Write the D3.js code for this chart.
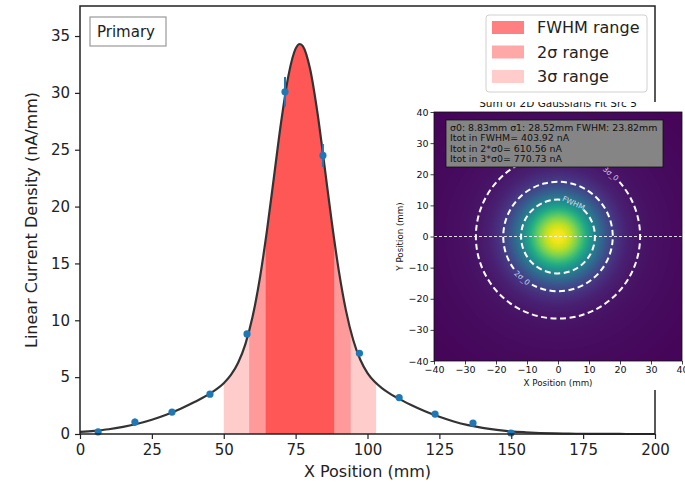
<!DOCTYPE html>
<html>
<head>
<meta charset="utf-8">
<script src="https://cdn.jsdelivr.net/npm/d3@7"></script>
<style>
  body { margin: 0; background: #fff; }
  svg { display: block; }
  text { font-family: "DejaVu Sans", sans-serif; }
</style>
</head>
<body>
<svg id="chart" width="685" height="484"></svg>
<script>
// ---- measured linear current density samples (mm, nA/mm) ----
const pointX   = [6.3, 19.1, 32.0, 45.2, 58.1, 71.3, 84.5, 97.2, 111.0, 123.5, 136.7, 149.9];
const pointY   = [0.18, 1.05, 1.93, 3.5, 8.8, 30.1, 24.5, 7.1, 3.2, 1.75, 0.96, 0.09];
const pointErr = [0.15, 0.3, 0.15, 0.2, 0.2, 1.3, 1.0, 0.2, 0.25, 0.15, 0.2, 0.1];

// ---- fitted profile ----
const fitX = [0, 5, 10, 15, 20, 25, 30, 35, 40, 42.5, 45, 47.5, 50, 52.5, 55, 57.5, 60, 62.5, 65, 67.5,
              70, 72.5, 75, 76.5, 77.5, 80, 82.5, 85, 87.5, 90, 92.5, 95, 97.5, 100, 102.5, 105, 107.5,
              110, 112.5, 115, 120, 125, 130, 135, 140, 145, 150, 155, 160, 165, 170, 175, 180, 185,
              190, 195, 200];
const fitY = [0.18, 0.28, 0.42, 0.63, 0.90, 1.25, 1.69, 2.22, 2.83, 3.16, 3.53, 3.94, 4.47, 5.19, 6.26,
              7.88, 10.28, 13.61, 17.84, 22.68, 27.51, 31.52, 33.89, 34.30, 34.12, 32.14, 28.41, 23.67,
              18.78, 14.39, 10.87, 8.29, 6.53, 5.36, 4.59, 4.04, 3.60, 3.23, 2.89, 2.57, 2.00, 1.51,
              1.10, 0.78, 0.54, 0.36, 0.23, 0.15, 0.09, 0.05, 0.03, 0.02, 0.01, 0.004, 0.002, 0.001, 0.0005];

// ---- shaded ranges (drawn widest first) ----
const bandNames  = ["3σ range", "2σ range", "FWHM range"];
const bandLo     = [50.01, 58.84, 64.59];
const bandHi     = [102.99, 94.16, 88.41];
const bandFill   = ["#ffcccc", "#ff9a9a", "#ff5656"];
const legendNames = ["FWHM range", "2σ range", "3σ range"];
const legendFill  = ["#ff8080", "#ffa8a8", "#ffcccc"];

const xTicks = [0, 25, 50, 75, 100, 125, 150, 175, 200];
const yTicks = [0, 5, 10, 15, 20, 25, 30, 35];

// ---- 2D fit panel ----
const insetTitle = "Sum of 2D Gaussians Fit Src 5";
const statLines = [
  "σ0: 8.83mm  σ1: 28.52mm FWHM: 23.82mm",
  "Itot in FWHM= 403.92 nA",
  "Itot in 2*σ0= 610.56 nA",
  "Itot in 3*σ0= 770.73 nA"
];
const contourNames  = ["FWHM", "2σ_0", "3σ_0"];
const contourRadii  = [11.91, 17.66, 26.49];
const contourLabelAngle = [65, -131, 50];   // degrees, counter-clockwise from +x
// radial intensity profile (normalised)
const profileR = [0, 2, 4, 6, 8, 10, 12, 14, 16, 18, 20, 22, 25, 30, 35, 40, 50, 57];
const profileV = [1, 0.976, 0.908, 0.806, 0.683, 0.554, 0.431, 0.325, 0.238, 0.171, 0.124, 0.091,
                  0.062, 0.041, 0.031, 0.025, 0.014, 0.009];
const insetTicks = [-40, -30, -20, -10, 0, 10, 20, 30, 40];

// =============== main panel ===============
const svg = d3.select("#chart");
const M = { left: 80, right: 655, top: 6, bottom: 434 };
const x = d3.scaleLinear().domain([0, 200]).range([M.left, M.right]);
const y = d3.scaleLinear().domain([0, 37.64]).range([M.bottom, M.top]);

const fit = fitX.map((v, i) => ({ x: v, y: fitY[i] }));
const area = d3.area().x(d => x(d.x)).y0(y(0)).y1(d => y(d.y)).curve(d3.curveMonotoneX);
const line = d3.line().x(d => x(d.x)).y(d => y(d.y)).curve(d3.curveMonotoneX);

const defs = svg.append("defs");
bandNames.forEach((name, i) => {
  defs.append("clipPath").attr("id", "band" + i)
    .append("rect")
    .attr("x", x(bandLo[i])).attr("width", x(bandHi[i]) - x(bandLo[i]))
    .attr("y", M.top).attr("height", M.bottom - M.top);
  svg.append("path").datum(fit)
    .attr("d", area)
    .attr("fill", bandFill[i])
    .attr("clip-path", `url(#band${i})`);
});

svg.append("path").datum(fit)
  .attr("d", line)
  .attr("fill", "none")
  .attr("stroke", "#333")
  .attr("stroke-width", 2.2);

// error bars and points
const pts = pointX.map((v, i) => ({ x: v, y: pointY[i], e: pointErr[i] }));
svg.append("g").selectAll("line").data(pts).join("line")
  .attr("x1", d => x(d.x)).attr("x2", d => x(d.x))
  .attr("y1", d => y(d.y - d.e)).attr("y2", d => y(d.y + d.e))
  .attr("stroke", "#1f77b4").attr("stroke-width", 2);
svg.append("g").selectAll("circle").data(pts).join("circle")
  .attr("cx", d => x(d.x)).attr("cy", d => y(d.y)).attr("r", 3.6)
  .attr("fill", "#1f77b4");

// axes
const xAxis = svg.append("g").attr("transform", `translate(0,${M.bottom})`)
  .call(d3.axisBottom(x).tickValues(xTicks).tickSize(5).tickPadding(5).tickFormat(d3.format("d")));
const yAxis = svg.append("g").attr("transform", `translate(${M.left},0)`)
  .call(d3.axisLeft(y).tickValues(yTicks).tickSize(5).tickPadding(5).tickFormat(d3.format("d")));
[xAxis, yAxis].forEach(g => {
  g.select(".domain").remove();
  g.selectAll(".tick line").attr("stroke", "#222").attr("stroke-width", 1.2);
  g.selectAll(".tick text").attr("fill", "#222").style("font-size", "15px")
    .style("font-family", "'DejaVu Sans', sans-serif");
});
// frame
svg.append("rect")
  .attr("x", M.left).attr("y", M.top)
  .attr("width", M.right - M.left).attr("height", M.bottom - M.top)
  .attr("fill", "none").attr("stroke", "#222").attr("stroke-width", 1.5);

svg.append("text").attr("x", (M.left + M.right) / 2).attr("y", 477)
  .attr("text-anchor", "middle").style("font-size", "16px").attr("fill", "#222")
  .text("X Position (mm)");
svg.append("text").attr("transform", `translate(31,${(M.top + M.bottom) / 2}) rotate(-90)`)
  .attr("text-anchor", "middle").attr("dy", "0.35em").style("font-size", "16px").attr("fill", "#222")
  .text("Linear Current Density (nA/mm)");

// "Primary" tag
svg.append("rect").attr("x", 90).attr("y", 17).attr("width", 76).attr("height", 29)
  .attr("fill", "#fff").attr("stroke", "#999").attr("stroke-width", 1.2);
svg.append("text").attr("x", 97).attr("y", 37).style("font-size", "15px").attr("fill", "#222")
  .text("Primary");

// legend
const leg = svg.append("g");
leg.append("rect").attr("x", 486).attr("y", 15).attr("width", 161).attr("height", 77)
  .attr("rx", 3).attr("fill", "#fff").attr("fill-opacity", 0.85)
  .attr("stroke", "#d0d0d0").attr("stroke-width", 1);
legendNames.forEach((name, i) => {
  const cy = 27.5 + i * 24.5;
  leg.append("rect").attr("x", 492).attr("y", cy - 6.5).attr("width", 32).attr("height", 13)
    .attr("fill", legendFill[i]);
  leg.append("text").attr("x", 537).attr("y", cy).attr("dy", "0.35em")
    .style("font-size", "16px").attr("fill", "#222").text(name);
});

// =============== 2D fit panel ===============
defs.append("clipPath").attr("id", "insetClip")
  .append("rect").attr("x", 393).attr("y", 102).attr("width", 292).attr("height", 288);
const inset = svg.append("g").attr("clip-path", "url(#insetClip)");
inset.append("rect").attr("x", 393).attr("y", 102).attr("width", 292).attr("height", 288).attr("fill", "#fff");

const ix = d3.scaleLinear().domain([-40, 40]).range([434, 682]);
const iy = d3.scaleLinear().domain([-40, 40]).range([361, 112]);

// heat map
const hmW = Math.round(ix(40) - ix(-40)), hmH = Math.round(iy(-40) - iy(40));
const cv = document.createElement("canvas");
cv.width = hmW; cv.height = hmH;
const ctx = cv.getContext("2d");
const img = ctx.createImageData(hmW, hmH);
const prof = d3.scaleLinear().domain(profileR).range(profileV).clamp(true);
const lut = d3.range(256).map(k => d3.rgb(d3.interpolateViridis(k / 255)));
for (let j = 0; j < hmH; j++) {
  const yy = iy.invert(iy(40) + j + 0.5);
  for (let i = 0; i < hmW; i++) {
    const xx = ix.invert(ix(-40) + i + 0.5);
    const c = lut[Math.round(prof(Math.hypot(xx, yy)) * 255)];
    const o = (j * hmW + i) * 4;
    img.data[o] = c.r; img.data[o + 1] = c.g; img.data[o + 2] = c.b; img.data[o + 3] = 255;
  }
}
ctx.putImageData(img, 0, 0);
inset.append("image").attr("href", cv.toDataURL())
  .attr("x", ix(-40)).attr("y", iy(40)).attr("width", hmW).attr("height", hmH)
  .attr("preserveAspectRatio", "none");

// centre line
inset.append("line").attr("x1", ix(-40)).attr("x2", 685).attr("y1", iy(0)).attr("y2", iy(0))
  .attr("stroke", "#fff").attr("stroke-opacity", 0.85).attr("stroke-width", 1)
  .attr("stroke-dasharray", "3,2");

// contour circles with label gaps
const cx0 = ix(0), cy0 = iy(0), pxPerMm = (ix(40) - ix(-40)) / 80;
contourRadii.forEach((r, i) => {
  const rp = r * pxPerMm;
  const th = contourLabelAngle[i] * Math.PI / 180;
  const gap = 12 / rp;
  const p = d3.path();
  const a0 = -th + gap, a1 = -th - gap + 2 * Math.PI;
  p.moveTo(cx0 + rp * Math.cos(a0), cy0 + rp * Math.sin(a0));
  p.arc(cx0, cy0, rp, a0, a1);
  inset.append("path").attr("d", p.toString()).attr("fill", "none")
    .attr("stroke", "#fff").attr("stroke-width", 2).attr("stroke-dasharray", "6,3.5");
  let rot = 90 - contourLabelAngle[i];
  if (rot > 90) rot -= 180;
  inset.append("text")
    .attr("transform", `translate(${cx0 + rp * Math.cos(th)},${cy0 - rp * Math.sin(th)}) rotate(${rot})`)
    .attr("text-anchor", "middle").attr("dy", "0.35em")
    .style("font-size", "7.5px").attr("fill", "#f0eaff").attr("fill-opacity", 0.85)
    .text(contourNames[i]);
});

// heat map frame and ticks
inset.append("rect").attr("x", ix(-40)).attr("y", iy(40)).attr("width", hmW).attr("height", hmH)
  .attr("fill", "none").attr("stroke", "#111").attr("stroke-width", 0.8);
const ixAxis = inset.append("g").attr("transform", `translate(0,${iy(-40)})`)
  .call(d3.axisBottom(ix).tickValues(insetTicks).tickSize(3.5).tickPadding(2).tickFormat(d3.format("d")));
const iyAxis = inset.append("g").attr("transform", `translate(${ix(-40)},0)`)
  .call(d3.axisLeft(iy).tickValues(insetTicks).tickSize(3.5).tickPadding(2).tickFormat(d3.format("d")));
[ixAxis, iyAxis].forEach(g => {
  g.select(".domain").remove();
  g.selectAll(".tick line").attr("stroke", "#111").attr("stroke-width", 0.8);
  g.selectAll(".tick text").attr("fill", "#111").style("font-size", "9.5px")
    .style("font-family", "'DejaVu Sans', sans-serif");
});
inset.append("text").attr("x", (ix(-40) + ix(40)) / 2).attr("y", 385.5)
  .attr("text-anchor", "middle").style("font-size", "8.7px").attr("fill", "#111")
  .text("X Position (mm)");
inset.append("text").attr("transform", `translate(400,${(iy(40) + iy(-40)) / 2}) rotate(-90)`)
  .attr("text-anchor", "middle").attr("dy", "0.35em").style("font-size", "8.7px").attr("fill", "#111")
  .text("Y Position (mm)");
inset.append("text").attr("x", (ix(-40) + ix(40)) / 2).attr("y", 106.5)
  .attr("text-anchor", "middle").style("font-size", "10.5px").attr("fill", "#111")
  .text(insetTitle);

// statistics box
inset.append("rect").attr("x", 446).attr("y", 120).attr("width", 217).attr("height", 47)
  .attr("fill", "#858585").attr("stroke", "#111").attr("stroke-width", 0.8);
statLines.forEach((s, i) => {
  inset.append("text").attr("x", 450).attr("y", 130.5 + i * 10.5)
    .style("font-size", "9.4px").attr("fill", "#111").text(s);
});
</script>
</body>
</html>
